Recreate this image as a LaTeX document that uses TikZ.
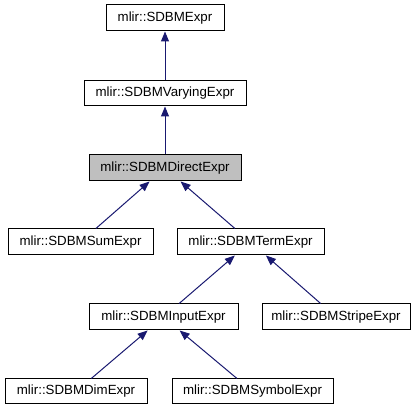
\documentclass[tikz,border=0pt]{standalone}
\usepackage{fontspec}
\setmainfont{Liberation Sans}
\usetikzlibrary{arrows.meta}
\definecolor{edgeblue}{HTML}{191970}
\begin{document}
\begin{tikzpicture}[x=1pt,y=-1pt,
  cls/.style={draw=black,line width=1pt,fill=white,minimum height=26pt,inner sep=0pt,
    font=\fontsize{13.3pt}{15pt}\selectfont},
  cur/.style={cls,fill=black!25},
  inh/.style={draw=edgeblue,line width=1pt,{Triangle[length=10pt,width=8pt,fill=edgeblue]}-}]
\useasboundingbox (0,0) rectangle (418,411);
\node[cls,minimum width=118pt] (e) at (165,18) {mlir::SDBMExpr};
\node[cls,minimum width=162pt,minimum height=25pt] (v) at (165,93.5) {mlir::SDBMVaryingExpr};
\node[cur,minimum width=152pt] (d) at (165,168) {mlir::SDBMDirectExpr};
\node[cls,minimum width=145pt] (sum) at (80.5,242) {mlir::SDBMSumExpr};
\node[cls,minimum width=147pt] (term) at (250.5,242) {mlir::SDBMTermExpr};
\node[cls,minimum width=149pt] (input) at (163.5,317) {mlir::SDBMInputExpr};
\node[cls,minimum width=148pt] (stripe) at (336,317) {mlir::SDBMStripeExpr};
\node[cls,minimum width=142pt,minimum height=25pt] (dim) at (76,391.5) {mlir::SDBMDimExpr};
\node[cls,minimum width=161pt,minimum height=25pt] (sym) at (252.5,391.5) {mlir::SDBMSymbolExpr};
\draw[inh] (e) -- (v);
\draw[inh] (v) -- (d);
\draw[inh] (d) -- (sum);
\draw[inh] (d) -- (term);
\draw[inh] (term) -- (input);
\draw[inh] (term) -- (stripe);
\draw[inh] (input) -- (dim);
\draw[inh] (input) -- (sym);
\end{tikzpicture}
\end{document}
